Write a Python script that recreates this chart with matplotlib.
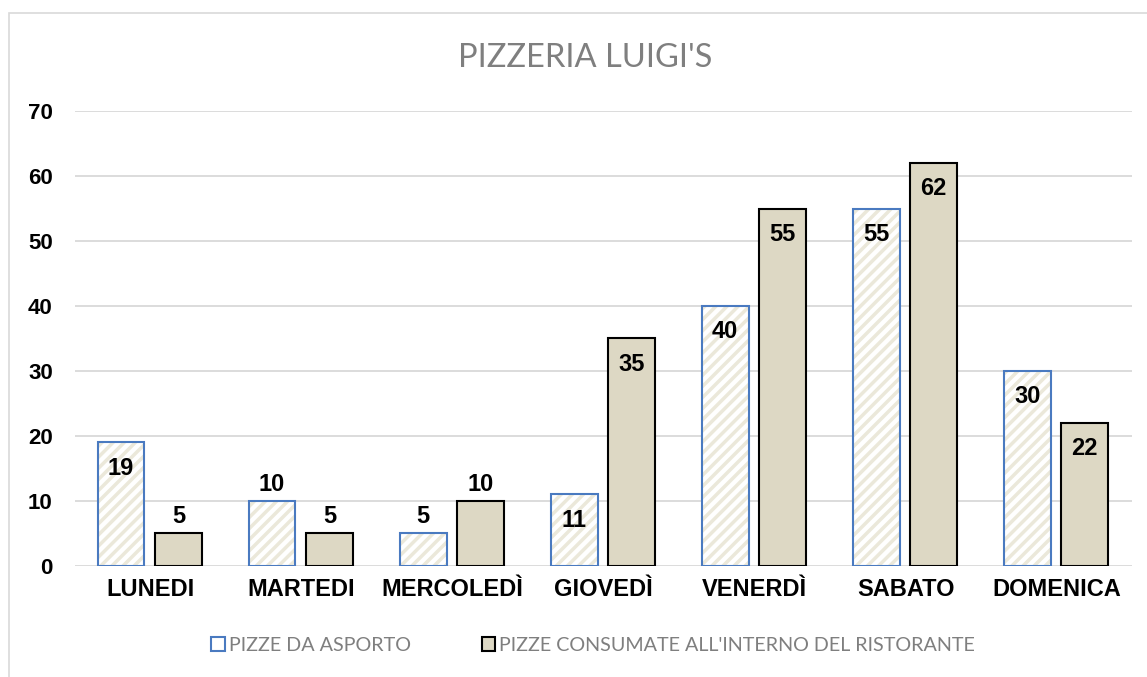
import numpy as np
import matplotlib
matplotlib.use("Agg")
from matplotlib import pyplot as plt
from matplotlib.patches import Patch, Rectangle

days = ["LUNEDI", "MARTEDI", "MERCOLEDÌ", "GIOVEDÌ", "VENERDÌ", "SABATO", "DOMENICA"]
asporto = [19, 10, 5, 11, 40, 55, 30]
interno = [5, 5, 10, 35, 55, 62, 22]
series_names = ["PIZZE DA ASPORTO", "PIZZE CONSUMATE ALL'INTERNO DEL RISTORANTE"]
title = "PIZZERIA LUIGI'S"

plt.rcParams['font.family'] = ['Liberation Sans', 'DejaVu Sans']
plt.rcParams['hatch.linewidth'] = 2.5

fig = plt.figure(figsize=(11.47, 6.77), dpi=100)
ax = fig.add_axes([0.0654, 0.164, 0.9216, 0.672])

# chart border
fig.patches.append(Rectangle((9 / 1147, -0.01), 1.0, 1 - 13 / 677 + 0.01,
                             transform=fig.transFigure, fill=False,
                             edgecolor="#d9d9d9", linewidth=1.2, zorder=0))

x = np.arange(len(days))
w = 0.31
x1 = x - 0.195
x2 = x + 0.185

# hatched fill then blue outline
ax.bar(x1, asporto, w, color="white", edgecolor="#ebe8da", hatch="///", linewidth=0, zorder=2)
ax.bar(x1, asporto, w, fill=False, edgecolor="#4a7ac0", linewidth=1.5, zorder=3)
ax.bar(x2, interno, w, color="#ddd8c4", edgecolor="black", linewidth=1.5, zorder=3)

def label(xs, vals):
    for xi, v in zip(xs, vals):
        if v > 10:
            ax.text(xi, v - 2.2, str(v), ha="center", va="top", fontsize=17,
                    fontweight="bold", zorder=4)
        else:
            ax.text(xi, v + 0.8, str(v), ha="center", va="bottom", fontsize=17,
                    fontweight="bold", zorder=4)

label(x1, asporto)
label(x2, interno)

ax.set_xlim(-0.5, len(days) - 0.5)
ax.set_ylim(0, 70)
ax.set_yticks(range(0, 71, 10))
ax.set_xticks(x)
ax.set_xticklabels(days, fontsize=17, fontweight="bold")
ax.tick_params(axis="y", labelsize=16, length=0, pad=16)
ax.tick_params(axis="x", length=0, pad=9)
for lbl in ax.get_yticklabels():
    lbl.set_fontweight("bold")
ax.grid(axis="y", color="#d9d9d9", linewidth=1.3, zorder=0)
ax.set_axisbelow(True)
for s in ax.spines.values():
    s.set_visible(False)

fig.text(0.51, 0.914, title, ha="center", va="center", fontsize=23.5,
         color="#7f7f7f", family=["Lato", "DejaVu Sans"])

handles = [
    Patch(facecolor="white", edgecolor="#4a7ac0", linewidth=1.5),
    Patch(facecolor="#ddd8c4", edgecolor="black", linewidth=1.5),
]
fig.legend(handles, series_names, loc="center", bbox_to_anchor=(0.517, 0.047),
           ncol=2, frameon=False, handlelength=0.7, handleheight=0.7,
           handletextpad=0.2, columnspacing=3.6,
           prop={"family": ["Lato", "DejaVu Sans"], "size": 14.2},
           labelcolor="#7f7f7f")

fig.savefig("out.png", dpi=100)
